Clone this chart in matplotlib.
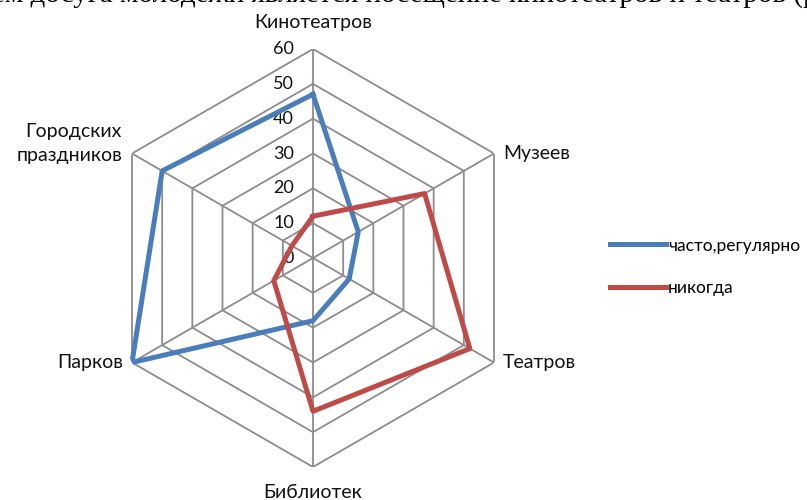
import numpy as np
import matplotlib
matplotlib.use("Agg")
import matplotlib.pyplot as plt

categories = ["Кинотеатров", "Музеев", "Театров", "Библиотек", "Парков",
              "Городских\nпраздников"]
often = [47, 15, 12, 18, 60, 50]
never = [12, 37, 52, 44, 13, 7]
series_names = ["часто,регулярно", "никогда"]
levels = [0, 10, 20, 30, 40, 50, 60]

C_BLUE = "#4a7ebb"
C_RED = "#be4b48"
C_GRID = "#8c8c8c"
FONT = "Lato"

W, H = 807, 500
fig = plt.figure(figsize=(W / 100, H / 100), dpi=100)

# radar centre / radius in pixels
cx, cy, rad = 313, 258, 209
ax = fig.add_axes([(cx - rad) / W, (H - cy - rad) / H, 2 * rad / W, 2 * rad / H],
                  projection="polar")
ax.set_theta_offset(np.pi / 2)
ax.set_theta_direction(-1)
ax.set_ylim(0, levels[-1])
ax.grid(False)
ax.spines["polar"].set_visible(False)
ax.set_xticks([])
ax.set_yticks([])
ax.patch.set_alpha(0)

n = len(categories)
theta = np.arange(n) * 2 * np.pi / n
theta_c = np.append(theta, theta[0])

# hexagonal grid
for lv in levels[1:]:
    ax.plot(theta_c, [lv] * (n + 1), color=C_GRID, lw=1.3, zorder=1)
for t in theta:
    ax.plot([t, t], [0, levels[-1]], color=C_GRID, lw=1.3, zorder=1)

# radial value labels
for lv in levels:
    ax.annotate(str(lv), (0, lv), xytext=(-19, 0), textcoords="offset pixels",
                ha="right", va="center", fontsize=13, family=FONT, color="#111")

# series
ax.plot(theta_c, often + often[:1], color=C_BLUE, lw=3.6, zorder=3,
        label=series_names[0])
ax.plot(theta_c, never + never[:1], color=C_RED, lw=3.6, zorder=3,
        label=series_names[1])

# category labels
offs = [((0, 27), "center", "center"), ((9, 0), "left", "center"),
        ((9, 0), "left", "center"), ((0, -26), "center", "center"),
        ((-9, 0), "right", "center"), ((-10, 10), "right", "center")]
for t, lab, (off, ha, va) in zip(theta, categories, offs):
    ax.annotate(lab, (t, levels[-1]), xytext=off, textcoords="offset pixels",
                ha=ha, va=va, fontsize=14, family=FONT, color="#111",
                linespacing=1.5, annotation_clip=False)

fig.legend(loc="center left", bbox_to_anchor=(610 / W, 1 - 267 / H),
           frameon=False, prop={"family": FONT, "size": 12.5},
           handlelength=3.2, handletextpad=0.15, labelspacing=1.55,
           borderpad=0, borderaxespad=0)

# cut-off line of the surrounding document text (only its lower edge shows)
fig.text(-0.01, 1 - 2 / H,
         "ем досуга молодежи является посещение кинотеатров и театров (рис. 1).",
         ha="left", va="baseline", fontsize=21, family="Liberation Serif")

fig.savefig("out.png", dpi=100)
